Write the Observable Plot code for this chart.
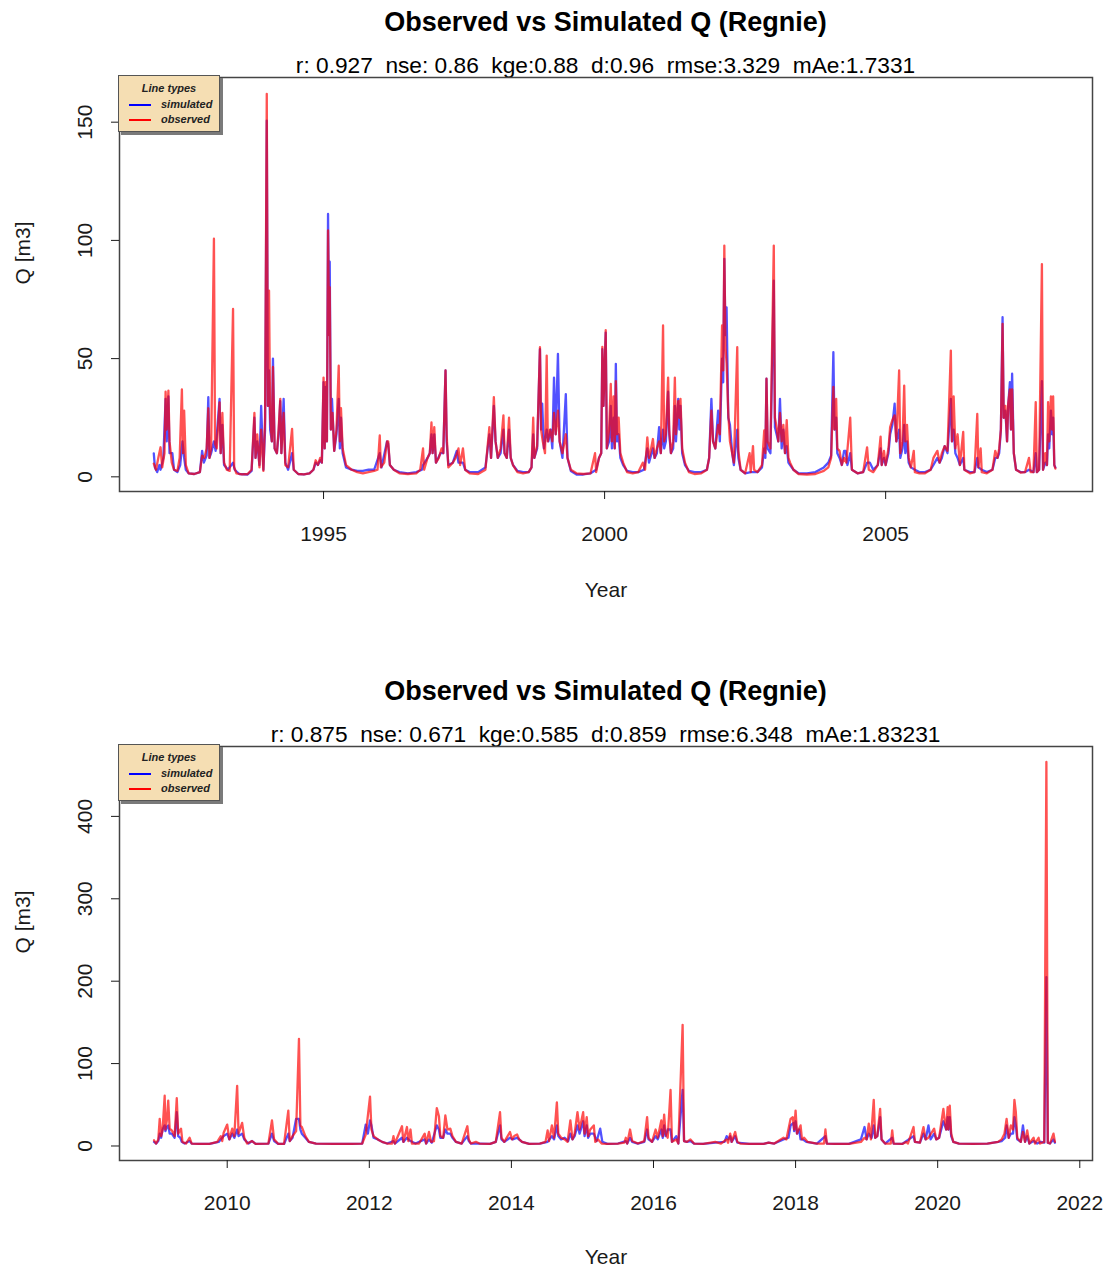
<!DOCTYPE html>
<html><head><meta charset="utf-8">
<script src="https://cdn.jsdelivr.net/npm/d3@7"></script>
<script src="https://cdn.jsdelivr.net/npm/@observablehq/plot@0.6"></script>
<style>
body{margin:0;background:#fff;font-family:"Liberation Sans",Arial,Helvetica,sans-serif;}
#wrap{position:relative;width:1107px;height:1270px;overflow:hidden;background:#fff;}
.title{position:absolute;left:119px;width:973px;text-align:center;font-weight:bold;font-size:27px;line-height:30px;color:#000;white-space:pre;}
.sub{position:absolute;left:119px;width:973px;text-align:center;font-size:22.7px;line-height:26px;color:#000;white-space:pre;}
.panel{position:absolute;left:0;}
.panel svg{display:block;}
.legend{position:absolute;left:118px;width:100px;height:55px;background:#f5deb3;border:1px solid #555;box-shadow:3px 3px 0 #7a7a7a;font-style:italic;font-weight:bold;font-size:11px;color:#222;}
.legend .hd{position:absolute;left:0;width:100%;top:6px;text-align:center;}
.legend .sw{position:absolute;left:10px;width:22px;height:2px;}
.legend .lb{position:absolute;left:42px;}
</style>
</head><body>
<div id="wrap"></div>
<script>
const FONT = '"Liberation Sans", Arial, Helvetica, sans-serif';

const chartTitle = "Observed vs Simulated Q (Regnie)";
const subtitleTop = "r: 0.927  nse: 0.86  kge:0.88  d:0.96  rmse:3.329  mAe:1.7331";
const subtitleBottom = "r: 0.875  nse: 0.671  kge:0.585  d:0.859  rmse:6.348  mAe:1.83231";
const xLabel = "Year";
const yLabel = "Q [m3]";
const legendTitle = "Line types";
const seriesNames = ["simulated", "observed"];
const seriesColors = ["#0000ff", "#ff0000"];

const yearTicksTop = [1995, 2000, 2005];
const qTicksTop = [0, 50, 100, 150];
const yearTicksBottom = [2010, 2012, 2014, 2016, 2018, 2020, 2022];
const qTicksBottom = [0, 100, 200, 300, 400];

// [decimal year, Q] — panel 1 (1992–2008)
const observedTop = [
[1991.98,5.6],[1992.02,3],[1992.06,8],[1992.10,12.5],[1992.13,4],[1992.17,10],[1992.19,36],[1992.21,20],[1992.24,36.5],[1992.26,15],
[1992.30,6],[1992.34,3],[1992.40,2.5],[1992.44,8],[1992.48,37],[1992.50,10],[1992.52,28],[1992.55,5],[1992.60,1.5],[1992.70,1.2],
[1992.80,2],[1992.84,9],[1992.88,8],[1992.92,12],[1992.95,29],[1992.97,8],[1993.00,12],[1993.05,100.7],[1993.07,14],[1993.10,12],
[1993.15,31.5],[1993.17,10],[1993.20,27],[1993.23,6],[1993.28,3],[1993.33,2.5],[1993.39,71],[1993.41,4],[1993.45,1.5],[1993.55,1],
[1993.65,1.2],[1993.72,3],[1993.77,27],[1993.79,8],[1993.82,18],[1993.86,4],[1993.89,20],[1993.93,2.5],[1993.96,25],[1993.99,162],
[1994.01,30],[1994.03,78.8],[1994.05,25],[1994.08,15],[1994.10,46.5],[1994.13,12],[1994.17,10],[1994.20,20],[1994.23,33],[1994.25,10],
[1994.29,27],[1994.32,5],[1994.37,4],[1994.44,20.3],[1994.47,3],[1994.55,1.2],[1994.65,1],[1994.75,1.5],[1994.82,3],[1994.86,7],
[1994.90,5],[1994.94,8],[1994.97,6],[1995.00,42],[1995.02,12],[1995.04,40],[1995.06,15],[1995.08,104.2],[1995.10,60],[1995.11,80.2],
[1995.13,20],[1995.16,27],[1995.19,11],[1995.23,20],[1995.27,47],[1995.29,15],[1995.31,29],[1995.34,12],[1995.40,5],[1995.50,3],
[1995.60,2],[1995.70,1.5],[1995.80,2],[1995.90,2.5],[1995.96,3],[1996.00,17.5],[1996.02,4],[1996.08,6],[1996.13,15],[1996.15,15],
[1996.18,5],[1996.25,3],[1996.35,1.5],[1996.50,1.2],[1996.65,1.5],[1996.72,3],[1996.77,12],[1996.79,3],[1996.85,8],[1996.89,10],
[1996.92,23],[1996.94,10],[1996.97,21],[1997.00,6],[1997.05,8],[1997.10,12],[1997.13,10],[1997.17,45],[1997.19,18],[1997.22,4],
[1997.30,6],[1997.35,8],[1997.40,12],[1997.43,5],[1997.48,12],[1997.52,3],[1997.60,1.5],[1997.75,1.2],[1997.88,3],[1997.95,21],
[1997.98,8],[1998.03,33.7],[1998.06,15],[1998.10,8],[1998.15,12],[1998.20,26],[1998.22,10],[1998.26,8],[1998.30,25],[1998.33,8],
[1998.37,5],[1998.45,2],[1998.55,1.5],[1998.65,2],[1998.70,4],[1998.73,25],[1998.75,8],[1998.80,13],[1998.85,54.8],[1998.87,20],
[1998.90,15],[1998.94,10],[1998.97,51.3],[1998.99,15],[1999.03,20],[1999.07,15],[1999.10,27],[1999.13,18],[1999.17,28],[1999.20,15],
[1999.25,10],[1999.31,18],[1999.34,8],[1999.40,3],[1999.50,1.5],[1999.62,1.2],[1999.75,1.5],[1999.83,10],[1999.85,2],[1999.90,8],
[1999.94,10],[1999.96,55],[1999.98,30],[2000.02,62],[2000.04,12],[2000.08,20],[2000.11,39.3],[2000.13,15],[2000.16,34],[2000.18,12],
[2000.20,40.5],[2000.22,18],[2000.25,25],[2000.28,10],[2000.33,6],[2000.40,2],[2000.50,1.5],[2000.60,2],[2000.68,6],[2000.72,3],
[2000.76,16.7],[2000.79,8],[2000.82,11],[2000.86,16],[2000.89,8],[2000.93,12],[2000.97,15],[2001.00,10],[2001.04,64],[2001.06,15],
[2001.09,18],[2001.13,42],[2001.15,20],[2001.18,10],[2001.22,15],[2001.25,42],[2001.27,18],[2001.31,32],[2001.33,25],[2001.35,33],
[2001.38,12],[2001.43,6],[2001.50,2],[2001.60,1.2],[2001.72,1.5],[2001.82,3],[2001.86,8],[2001.90,28],[2001.93,15],[2001.97,12],
[2002.02,22],[2002.05,18],[2002.09,64],[2002.11,45],[2002.13,97.8],[2002.15,55],[2002.17,48],[2002.20,27],[2002.23,15],[2002.27,10],
[2002.30,6],[2002.36,54.8],[2002.38,11],[2002.42,3],[2002.50,1.5],[2002.58,10],[2002.60,2],[2002.64,13],[2002.66,3],[2002.72,2],
[2002.80,5],[2002.84,19.6],[2002.86,10],[2002.88,41.5],[2002.90,15],[2002.95,12],[2003.01,97.8],[2003.03,25],[2003.06,21],[2003.09,15],
[2003.12,27],[2003.15,15],[2003.18,22],[2003.21,10],[2003.24,24],[2003.27,8],[2003.30,6],[2003.36,3],[2003.45,1.2],[2003.60,1],
[2003.75,1.2],[2003.90,2.5],[2003.98,4],[2004.03,8],[2004.07,38],[2004.09,20],[2004.12,33],[2004.14,12],[2004.18,11],[2004.22,5],
[2004.26,8],[2004.30,6],[2004.37,25],[2004.40,3],[2004.50,1.5],[2004.60,2],[2004.67,12.5],[2004.70,3],[2004.78,2],[2004.86,5],
[2004.91,17],[2004.93,5],[2004.97,11],[2005.00,5],[2005.05,12],[2005.08,21],[2005.12,24],[2005.16,26],[2005.19,15],[2005.24,45],
[2005.26,10],[2005.30,15],[2005.33,38.6],[2005.35,15],[2005.38,22],[2005.41,8],[2005.45,4],[2005.50,11],[2005.52,2],[2005.60,1.5],
[2005.70,1.5],[2005.80,3],[2005.85,8],[2005.92,11],[2005.96,6],[2006.00,10],[2006.05,13],[2006.10,11],[2006.16,53.4],[2006.18,15],
[2006.21,34],[2006.24,12],[2006.28,18],[2006.32,5],[2006.38,19],[2006.40,3],[2006.50,1.5],[2006.58,2],[2006.63,26.6],[2006.65,4],
[2006.69,12],[2006.71,2],[2006.80,1.5],[2006.90,3],[2006.95,11],[2006.99,8],[2007.02,12],[2007.05,20],[2007.08,64.7],[2007.10,25],
[2007.13,30],[2007.16,15],[2007.18,31],[2007.21,37],[2007.23,20],[2007.25,37],[2007.28,10],[2007.32,3],[2007.40,1.8],[2007.48,2],
[2007.55,8],[2007.58,2],[2007.63,2],[2007.67,31.6],[2007.69,2],[2007.73,3],[2007.78,90],[2007.80,3],[2007.84,10],[2007.87,5],
[2007.89,31.6],[2007.91,15],[2007.94,34],[2007.96,20],[2007.98,34],[2008.00,5],[2008.02,3.5]
];

const simulatedTop = [
[1991.98,9.9],[1992.00,4],[1992.04,2],[1992.08,5],[1992.10,3],[1992.15,8],[1992.19,33],[1992.21,15],[1992.24,34],[1992.26,10],
[1992.31,10],[1992.34,3],[1992.40,2],[1992.45,5],[1992.49,15],[1992.52,8],[1992.55,3],[1992.60,1.5],[1992.70,1.2],[1992.80,2],
[1992.84,11],[1992.87,6],[1992.92,9],[1992.95,33.7],[1992.97,8],[1993.00,10],[1993.05,15],[1993.08,11],[1993.15,33],[1993.17,10],
[1993.20,22],[1993.23,5],[1993.30,3],[1993.39,6],[1993.42,3],[1993.50,1.2],[1993.65,1],[1993.72,2.5],[1993.77,25],[1993.79,8],
[1993.82,15],[1993.86,5],[1993.89,30],[1993.93,3],[1993.96,20],[1993.99,150.7],[1994.01,30],[1994.03,45],[1994.05,20],[1994.08,15],
[1994.10,50],[1994.13,12],[1994.17,10],[1994.20,18],[1994.23,32],[1994.25,10],[1994.29,33],[1994.32,6],[1994.37,3],[1994.44,10],
[1994.47,3],[1994.55,1.2],[1994.65,1],[1994.75,1.5],[1994.82,3],[1994.86,6],[1994.90,5],[1994.94,7],[1994.97,6],[1995.00,40],
[1995.02,12],[1995.04,38],[1995.06,15],[1995.08,111.2],[1995.10,60],[1995.11,91],[1995.13,20],[1995.15,33],[1995.19,11],[1995.23,18],
[1995.27,33],[1995.29,12],[1995.31,25],[1995.34,10],[1995.40,4],[1995.50,3],[1995.60,2.5],[1995.70,2.5],[1995.80,3],[1995.90,3],
[1996.00,10],[1996.03,4],[1996.13,15],[1996.15,14],[1996.18,5],[1996.25,3],[1996.35,2],[1996.50,1.5],[1996.65,2],[1996.75,3],
[1996.77,5],[1996.85,8],[1996.89,10],[1996.92,18],[1996.94,10],[1996.97,18],[1997.00,6],[1997.08,10],[1997.13,10],[1997.17,45],
[1997.19,15],[1997.22,5],[1997.30,6],[1997.37,11],[1997.40,6],[1997.48,6],[1997.52,3],[1997.60,2],[1997.75,2],[1997.88,4],
[1997.95,18],[1997.98,8],[1998.03,30],[1998.06,15],[1998.10,8],[1998.15,10],[1998.20,20],[1998.22,10],[1998.26,8],[1998.30,20],
[1998.33,8],[1998.37,5],[1998.45,2.5],[1998.55,2],[1998.65,2],[1998.70,4],[1998.73,18],[1998.75,8],[1998.80,12],[1998.85,54],
[1998.87,20],[1998.89,31],[1998.92,12],[1998.97,20],[1999.00,15],[1999.04,20],[1999.07,12],[1999.10,42],[1999.13,18],[1999.17,52],
[1999.20,15],[1999.25,8],[1999.31,35],[1999.34,8],[1999.40,2.5],[1999.50,1],[1999.62,1],[1999.75,1.5],[1999.85,3],[1999.90,8],
[1999.94,10],[1999.96,54],[1999.98,30],[2000.02,61],[2000.04,12],[2000.08,15],[2000.11,30],[2000.13,12],[2000.16,25],[2000.18,12],
[2000.20,47.8],[2000.22,15],[2000.25,18],[2000.28,8],[2000.33,5],[2000.40,2.5],[2000.50,2],[2000.60,2],[2000.70,3],[2000.76,12],
[2000.79,6],[2000.86,12],[2000.89,8],[2000.93,10],[2000.97,21],[2001.00,10],[2001.04,20],[2001.06,12],[2001.09,15],[2001.13,36],
[2001.15,18],[2001.18,10],[2001.22,12],[2001.25,30],[2001.27,15],[2001.31,33],[2001.33,20],[2001.35,30],[2001.38,10],[2001.43,5],
[2001.50,2.5],[2001.60,2],[2001.72,2],[2001.82,3],[2001.86,8],[2001.90,33],[2001.93,15],[2001.97,12],[2002.02,28],[2002.05,15],
[2002.09,50],[2002.11,40],[2002.13,92.2],[2002.15,60],[2002.17,71.7],[2002.20,25],[2002.23,22],[2002.27,10],[2002.30,5],[2002.36,20],
[2002.38,8],[2002.42,3],[2002.50,1.5],[2002.60,2],[2002.72,2],[2002.80,4],[2002.84,12],[2002.86,8],[2002.88,41.5],[2002.90,12],
[2002.95,10],[2003.01,83],[2003.03,21],[2003.06,18],[2003.09,15],[2003.12,33],[2003.15,12],[2003.18,20],[2003.21,10],[2003.24,13],
[2003.27,6],[2003.30,5],[2003.36,3],[2003.45,1.5],[2003.60,1.5],[2003.75,2],[2003.90,4],[2003.98,6],[2004.03,9],[2004.07,52.7],
[2004.09,20],[2004.12,25],[2004.14,10],[2004.18,8],[2004.22,5],[2004.26,11],[2004.29,11],[2004.32,5],[2004.37,10],[2004.40,3],
[2004.50,1.5],[2004.60,2],[2004.67,6],[2004.72,6],[2004.78,3],[2004.86,5],[2004.91,12],[2004.93,5],[2004.97,8],[2005.00,5],
[2005.05,10],[2005.08,18],[2005.12,22],[2005.16,31],[2005.19,15],[2005.24,20],[2005.26,8],[2005.30,12],[2005.33,22],[2005.35,10],
[2005.38,15],[2005.41,6],[2005.45,4],[2005.52,3],[2005.60,2],[2005.70,2],[2005.80,3],[2005.85,5],[2005.92,8],[2005.96,6],
[2006.00,8],[2006.05,13],[2006.10,10],[2006.16,33],[2006.18,15],[2006.21,20],[2006.24,10],[2006.28,8],[2006.32,5],[2006.38,8],
[2006.40,3],[2006.50,2],[2006.58,2],[2006.63,8],[2006.65,4],[2006.71,3],[2006.80,2],[2006.90,3],[2006.95,8],[2006.99,8],
[2007.02,10],[2007.05,20],[2007.08,67.5],[2007.10,25],[2007.13,28],[2007.16,15],[2007.18,30],[2007.21,40],[2007.23,20],[2007.25,43.6],
[2007.28,10],[2007.32,3],[2007.40,2],[2007.48,2],[2007.55,3],[2007.63,2],[2007.67,10],[2007.69,2],[2007.73,3],[2007.78,40.5],
[2007.80,3],[2007.84,6],[2007.87,5],[2007.89,18],[2007.91,12],[2007.94,28],[2007.96,18],[2007.98,25],[2008.00,5],[2008.02,4]
];

// panel 2 (2009–2021)
const observedBottom = [
[2008.97,6.9],[2009.00,3],[2009.03,8],[2009.05,33],[2009.07,12],[2009.09,19],[2009.12,61],[2009.13,20],[2009.15,31],[2009.17,55],
[2009.19,21],[2009.22,19],[2009.26,12],[2009.29,58],[2009.31,15],[2009.35,21],[2009.37,5],[2009.42,3],[2009.47,10],[2009.50,3],
[2009.60,2.5],[2009.75,2.5],[2009.86,5],[2009.91,12],[2009.93,6],[2009.95,16],[2010.00,26],[2010.03,8],[2010.07,21],[2010.10,12],
[2010.14,73],[2010.16,15],[2010.21,28],[2010.24,10],[2010.28,3],[2010.35,6],[2010.40,2.5],[2010.58,3],[2010.63,31],[2010.66,8],
[2010.72,2.5],[2010.80,2.5],[2010.86,43],[2010.88,6],[2010.92,12],[2010.97,18],[2011.01,130],[2011.03,25],[2011.05,23],[2011.10,12],
[2011.15,5],[2011.25,3],[2011.50,2.5],[2011.75,2.5],[2011.90,3],[2011.95,14],[2012.01,60],[2012.03,20],[2012.06,12],[2012.12,8],
[2012.18,5],[2012.25,3],[2012.32,3],[2012.34,12],[2012.36,3],[2012.46,24],[2012.48,5],[2012.53,23],[2012.55,6],[2012.58,20],
[2012.60,3],[2012.70,3],[2012.78,15],[2012.80,3],[2012.84,17],[2012.87,5],[2012.91,6],[2012.95,46],[2012.98,36],[2013.00,12],
[2013.04,10],[2013.07,37],[2013.10,20],[2013.14,21],[2013.17,12],[2013.22,5],[2013.30,3],[2013.38,24],[2013.40,8],[2013.43,3],
[2013.50,5],[2013.55,3],[2013.70,2.5],[2013.78,5],[2013.84,41],[2013.86,10],[2013.90,5],[2013.98,17],[2014.01,8],[2014.04,12],
[2014.08,14],[2014.11,8],[2014.15,5],[2014.25,2.5],[2014.40,3],[2014.48,5],[2014.51,19],[2014.53,6],[2014.57,25],[2014.60,10],
[2014.64,53],[2014.66,15],[2014.70,10],[2014.75,8],[2014.79,5],[2014.83,31],[2014.86,8],[2014.89,15],[2014.93,41],[2014.96,20],
[2015.01,41],[2015.03,15],[2015.06,35],[2015.08,12],[2015.11,20],[2015.16,25],[2015.18,5],[2015.22,8],[2015.27,3],[2015.35,2.5],
[2015.50,3],[2015.59,4],[2015.61,10],[2015.63,3],[2015.67,20],[2015.70,6],[2015.78,3],[2015.87,6],[2015.91,35],[2015.93,10],
[2015.98,5],[2016.03,20],[2016.06,10],[2016.11,31],[2016.13,12],[2016.15,38],[2016.17,15],[2016.20,10],[2016.24,68],[2016.26,5],
[2016.32,8],[2016.35,3],[2016.41,147],[2016.43,6],[2016.47,5],[2016.52,8],[2016.57,3],[2016.70,2.5],[2016.87,5],[2016.95,3],
[2017.03,8],[2017.05,4],[2017.08,15],[2017.10,5],[2017.15,17],[2017.18,5],[2017.22,3],[2017.35,2.5],[2017.55,2.5],[2017.62,4],
[2017.70,3],[2017.83,10],[2017.87,8],[2017.93,33],[2017.96,35],[2017.98,20],[2018.00,43],[2018.02,15],[2018.07,25],[2018.09,8],
[2018.12,10],[2018.17,5],[2018.30,3],[2018.40,3],[2018.42,20],[2018.44,3],[2018.55,2.5],[2018.75,2.5],[2018.92,5],[2018.97,10],
[2019.00,8],[2019.03,27],[2019.06,8],[2019.10,56],[2019.12,10],[2019.15,12],[2019.19,45],[2019.21,8],[2019.26,3],[2019.34,3],
[2019.36,19],[2019.38,3],[2019.50,2.5],[2019.56,5],[2019.58,3],[2019.66,23],[2019.68,5],[2019.75,4],[2019.80,23],[2019.83,8],
[2019.87,10],[2019.95,21],[2019.98,8],[2020.02,10],[2020.08,45],[2020.10,30],[2020.12,20],[2020.14,47],[2020.15,20],[2020.17,49],
[2020.19,15],[2020.22,5],[2020.30,3],[2020.50,2.5],[2020.70,3],[2020.85,5],[2020.90,8],[2020.94,15],[2020.97,33],[2021.00,10],
[2021.03,25],[2021.06,20],[2021.08,56],[2021.10,41],[2021.12,10],[2021.17,5],[2021.20,17],[2021.23,5],[2021.26,19],[2021.29,3],
[2021.35,10],[2021.37,3],[2021.42,10],[2021.44,3],[2021.50,5],[2021.53,466],[2021.55,4],[2021.58,3],[2021.63,15],[2021.65,5]
];

const simulatedBottom = [
[2008.97,5],[2009.00,3],[2009.03,6],[2009.05,15],[2009.07,10],[2009.09,20],[2009.12,25],[2009.13,18],[2009.15,23],[2009.17,25],
[2009.19,15],[2009.22,15],[2009.26,10],[2009.29,41],[2009.31,12],[2009.34,10],[2009.36,5],[2009.40,3],[2009.47,6],[2009.50,3],
[2009.60,2.5],[2009.75,2.5],[2009.88,5],[2009.91,8],[2009.95,12],[2010.00,15],[2010.03,8],[2010.07,15],[2010.10,10],[2010.14,20],
[2010.16,12],[2010.21,15],[2010.24,8],[2010.30,3],[2010.35,6],[2010.40,2.5],[2010.58,3],[2010.63,15],[2010.66,6],[2010.72,2.5],
[2010.80,2.5],[2010.86,15],[2010.88,6],[2010.92,10],[2010.97,33],[2011.01,33],[2011.03,20],[2011.05,15],[2011.10,10],[2011.15,5],
[2011.25,3],[2011.50,2.5],[2011.75,2.5],[2011.90,3],[2011.95,26],[2011.98,15],[2012.01,31],[2012.03,25],[2012.06,10],[2012.12,8],
[2012.18,5],[2012.25,3],[2012.34,6],[2012.36,3],[2012.46,10],[2012.48,5],[2012.53,10],[2012.55,8],[2012.58,6],[2012.65,3],
[2012.78,8],[2012.80,3],[2012.84,8],[2012.88,4],[2012.95,25],[2012.98,20],[2013.00,10],[2013.04,10],[2013.07,20],[2013.10,15],
[2013.14,15],[2013.17,10],[2013.22,5],[2013.30,3],[2013.38,12],[2013.40,6],[2013.43,3],[2013.55,3],[2013.70,2.5],[2013.78,5],
[2013.84,25],[2013.86,8],[2013.90,5],[2013.98,10],[2014.02,8],[2014.08,10],[2014.15,5],[2014.25,2.5],[2014.40,3],[2014.51,5],
[2014.57,12],[2014.60,8],[2014.64,25],[2014.66,12],[2014.70,8],[2014.75,10],[2014.80,6],[2014.83,15],[2014.86,8],[2014.89,12],
[2014.93,25],[2014.96,15],[2015.01,30],[2015.03,12],[2015.06,25],[2015.08,10],[2015.11,15],[2015.16,15],[2015.20,6],[2015.25,21],
[2015.28,5],[2015.35,2.5],[2015.50,3],[2015.61,6],[2015.63,3],[2015.67,10],[2015.70,5],[2015.78,3],[2015.87,5],[2015.91,20],
[2015.93,8],[2015.98,5],[2016.03,12],[2016.06,8],[2016.11,20],[2016.13,10],[2016.15,25],[2016.17,12],[2016.20,20],[2016.24,20],
[2016.26,5],[2016.32,12],[2016.35,3],[2016.41,68],[2016.43,6],[2016.47,5],[2016.52,6],[2016.57,3],[2016.70,2.5],[2016.87,4],
[2017.00,5],[2017.03,12],[2017.05,8],[2017.08,12],[2017.10,5],[2017.15,12],[2017.18,4],[2017.35,2.5],[2017.55,2.5],[2017.62,4],
[2017.70,3],[2017.83,8],[2017.90,10],[2017.93,25],[2017.97,28],[2017.98,18],[2018.00,30],[2018.02,15],[2018.05,20],[2018.07,8],
[2018.10,8],[2018.15,5],[2018.30,3],[2018.42,12],[2018.44,3],[2018.55,2.5],[2018.75,2.5],[2018.92,8],[2018.97,23],[2019.00,8],
[2019.03,15],[2019.07,10],[2019.10,25],[2019.12,10],[2019.15,12],[2019.19,35],[2019.21,8],[2019.26,3],[2019.36,10],[2019.38,3],
[2019.50,2.5],[2019.66,12],[2019.68,5],[2019.75,4],[2019.80,15],[2019.83,8],[2019.87,25],[2019.90,8],[2019.95,15],[2019.98,8],
[2020.02,10],[2020.08,30],[2020.10,25],[2020.12,20],[2020.14,35],[2020.15,20],[2020.17,35],[2020.19,12],[2020.22,5],[2020.30,3],
[2020.50,2.5],[2020.70,3],[2020.85,5],[2020.90,6],[2020.95,10],[2020.97,25],[2021.00,10],[2021.03,15],[2021.06,15],[2021.08,35],
[2021.10,25],[2021.12,8],[2021.17,5],[2021.20,25],[2021.23,5],[2021.26,12],[2021.29,3],[2021.35,6],[2021.40,3],[2021.45,5],
[2021.50,4],[2021.53,205],[2021.55,4],[2021.58,3],[2021.63,8],[2021.65,4]
];

const wrap = document.getElementById("wrap");

function addDiv(cls, top, text) {
  const d = document.createElement("div");
  d.className = cls; d.style.top = top + "px"; d.textContent = text;
  wrap.appendChild(d); return d;
}

function addLegend(top) {
  const lg = document.createElement("div");
  lg.className = "legend"; lg.style.top = top + "px";
  const hd = document.createElement("div"); hd.className = "hd"; hd.textContent = legendTitle; lg.appendChild(hd);
  seriesNames.forEach((name, i) => {
    const sw = document.createElement("div"); sw.className = "sw";
    sw.style.top = (28 + i * 15) + "px"; sw.style.background = seriesColors[i];
    lg.appendChild(sw);
    const lb = document.createElement("div"); lb.className = "lb";
    lb.style.top = (22 + i * 15) + "px"; lb.textContent = name;
    lg.appendChild(lb);
  });
  wrap.appendChild(lg);
}

function panel({top, height, marginBottom, xDomain, yDomain, xTicks, yTicks, sim, obs, labelDy}) {
  const chart = Plot.plot({
    width: 1107, height,
    marginLeft: 119, marginRight: 15, marginTop: 7, marginBottom,
    x: {domain: xDomain},
    y: {domain: yDomain},
    style: {fontFamily: FONT, fontSize: "21px", color: "#1a1a1a", background: "transparent", overflow: "visible"},
    marks: [
      Plot.line(sim, {x: d => d[0], y: d => d[1], stroke: seriesColors[0], strokeOpacity: 0.68, strokeWidth: 2.3}),
      Plot.line(obs, {x: d => d[0], y: d => d[1], stroke: seriesColors[1], strokeOpacity: 0.68, strokeWidth: 2.3}),
      Plot.frame({stroke: "#444", strokeWidth: 1.5}),
      Plot.axisX({ticks: xTicks, tickSize: 8, tickPadding: 27, tickFormat: d => String(d), label: null, fontSize: 21}),
      Plot.axisY({ticks: yTicks, tickSize: 8, tickPadding: 20, tickRotate: -90, tickFormat: d => String(d), label: null, fontSize: 21}),
      Plot.text([xLabel], {text: d => d, frameAnchor: "bottom", dy: labelDy, fontSize: 21}),
      Plot.text([yLabel], {text: d => d, frameAnchor: "left", dx: -96, rotate: -90, fontSize: 21})
    ]
  });
  const holder = document.createElement("div");
  holder.className = "panel"; holder.style.top = top + "px";
  holder.appendChild(chart);
  wrap.appendChild(holder);
}

addDiv("title", 7, chartTitle);
addDiv("sub", 52, subtitleTop);
panel({top: 70, height: 550, marginBottom: 129, xDomain: [1991.37, 2008.68], yDomain: [-6.2, 168.9],
  xTicks: yearTicksTop, yTicks: qTicksTop, sim: simulatedTop, obs: observedTop, labelDy: 105});
addLegend(75);

addDiv("title", 676, chartTitle);
addDiv("sub", 721, subtitleBottom);
panel({top: 739, height: 531, marginBottom: 110, xDomain: [2008.484, 2022.179], yDomain: [-17.6, 484.8],
  xTicks: yearTicksBottom, yTicks: qTicksBottom, sim: simulatedBottom, obs: observedBottom, labelDy: 103});
addLegend(744);
</script>
</body></html>
